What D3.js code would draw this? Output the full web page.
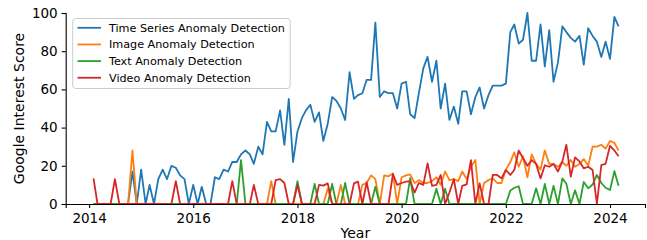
<!DOCTYPE html>
<html><head><meta charset="utf-8">
<script src="https://cdn.jsdelivr.net/npm/d3@7"></script>
<style>
body{margin:0;background:#fff}
svg{display:block;font-family:"DejaVu Sans",sans-serif}
</style>
</head><body>
<svg id="chart" width="647" height="240"></svg>
<script>
// ---- data (monthly, Feb 2014 .. Mar 2024) ----
const firstMonth = [2014, 1];   // year, month index (Feb)
const lastMonth  = [2024, 2];   // Mar 2024
const seriesNames = ["Time Series Anomaly Detection","Image Anomaly Detection","Text Anomaly Detection","Video Anomaly Detection"];
const seriesColors = ["#1f77b4","#ff7f0e","#2ca02c","#d62728"];

const timeSeriesAD = [
  0,0,0,0,0,0,0,0,0,17,0,
  18,0,10,0,13,18,13,20,19,15,13,0,
  10,0,9,0,0,14,13,18,17,22,22,26,
  28,26,21,30,26,43,38,38,49,31,55,22,
  38,45,49,52,43,48,33,42,56,54,50,44,
  69,55,57,58,65,65,95,56,59,58,58,50,
  63,64,47,45,58,71,77,64,75,50,63,44,
  51,42,59,59,47,56,61,50,57,62,62,62,
  63,90,94,84,86,100,75,75,94,72,91,64,
  74,93,90,87,85,88,73,92,88,85,77,85,
  76,98,93
];
const imageAD = [
  0,0,0,0,0,0,0,0,0,28,0,
  0,0,0,0,0,0,0,0,0,0,0,0,
  0,0,0,0,0,0,0,0,0,0,0,0,
  0,0,0,0,0,0,12,0,0,0,0,0,
  0,0,0,0,0,0,0,8,0,0,10,0,
  0,0,0,10,11,15,13,0,15,14.5,16,0,
  14,15,15.5,11,12.5,11,11,12,14,10,17,12.5,
  13,12,17,13,19.5,23,0,11,12.5,13.5,11,11,
  18,22,27,19.5,25,14,26,21,18,28,21,21,
  19.5,22,20,23,19.5,21,23.5,20,30,30,31,29,
  33,32,28
];
const textAD = [
  0,0,0,0,0,0,0,0,0,0,0,
  0,0,0,0,0,0,0,0,0,0,0,0,
  0,0,0,0,0,0,0,0,0,0,0,23,
  0,0,0,0,0,0,0,0,0,0,0,0,
  12,0,0,0,10.5,0,0,0,10.5,0,0,11,
  0,0,0,0,0,0,9,0,0,0,0,0,
  0,0,13.5,0,0,0,0,0,8,0,8,0,
  0,0,0,0,0,0,0,0,0,0,0,0,
  0,7,8.5,9.3,0,0,0,8.2,0,10.5,0,9.5,
  0,13.4,10.6,0,7.2,0,11.5,8.2,10.2,15.2,11,8.5,
  7.3,17.2,9.5
];
const videoAD = [
  13.4,0,0,0,0,13,0,0,0,0,0,
  0,0,0,0,0,0,0,0,12,0,0,0,
  0,0,0,0,0,0,0,0,0,12,0,0,
  0,0,10,0,0,0,0,12.5,13,11,0,0,
  10,0,0,0,0,10,9.6,10.8,0,0,0,0,
  0,10.8,11.7,0,11.4,0,0,0,0,0,15.7,10,
  11,11.7,12,6,11,10,21.3,9.5,10,15.2,0,6,
  13,0,9.5,10.3,23,0,10.8,0,0,15.2,15.2,13.4,
  17.8,15.2,17.8,28,24,20,23,21,13.4,20.3,19.5,21,
  17,22.3,31,14.3,24.4,22.3,18.7,19.5,17.8,0,20.3,21,
  30.5,28,25
];
const yTicks = [0,20,40,60,80,100];
const xTickYears = [2014,2016,2018,2020,2022,2024];
const xLabel = "Year";
const yLabel = "Google Interest Score";

// ---- layout ----
const svg = d3.select("#chart");
const plotL = 65.7, plotR = 645, plotT = 13, plotB = 204;

const months = d3.utcMonth.range(
  new Date(Date.UTC(firstMonth[0], firstMonth[1], 1)),
  d3.utcMonth.offset(new Date(Date.UTC(lastMonth[0], lastMonth[1], 1)), 1)
);
const allSeries = [timeSeriesAD, imageAD, textAD, videoAD];

const x = d3.scaleUtc()
  .domain([new Date(Date.UTC(2014,0,1)), new Date(Date.UTC(2024,0,1))])
  .range([89.1, 610]);
x.domain([x.invert(plotL), x.invert(plotR)]).range([plotL, plotR]);

const y = d3.scaleLinear().domain([0,100]).range([plotB, plotT]);

// lines
const line = d3.line().x((d,i)=>x(months[i])).y(d=>y(d));
allSeries.forEach((s,si)=>{
  svg.append("path").datum(s)
    .attr("d", line)
    .attr("fill","none")
    .attr("stroke", seriesColors[si])
    .attr("stroke-width", 1.8)
    .attr("stroke-linejoin","round");
});

// axes
const xAxis = d3.axisBottom(x)
  .tickValues(xTickYears.map(yr=>new Date(Date.UTC(yr,0,1))))
  .tickFormat(d3.utcFormat("%Y"))
  .tickSizeOuter(0).tickSize(4).tickPadding(5);
const gx = svg.append("g").attr("transform",`translate(0,${plotB})`).call(xAxis);
gx.selectAll("text").attr("font-size","13.5px").attr("fill","#000").attr("font-family","DejaVu Sans");
gx.select(".domain").attr("stroke","#000").attr("stroke-width",1.1);
gx.selectAll(".tick line").attr("stroke","#000").attr("stroke-width",1.1);

const yAxis = d3.axisLeft(y).tickValues(yTicks).tickSizeOuter(0).tickSize(4).tickPadding(4);
const gy = svg.append("g").attr("transform",`translate(${plotL},0)`).call(yAxis);
gy.selectAll("text").attr("font-size","13.5px").attr("fill","#000").attr("font-family","DejaVu Sans");
gy.select(".domain").attr("stroke","#000").attr("stroke-width",1.1);
gy.selectAll(".tick line").attr("stroke","#000").attr("stroke-width",1.1);

// axis labels
svg.append("text").attr("x",(plotL+plotR)/2).attr("y",237.5)
  .attr("text-anchor","middle").attr("font-size","14px").text(xLabel);
svg.append("text")
  .attr("transform",`translate(19,${(plotT+plotB)/2}) rotate(-90)`)
  .attr("text-anchor","middle").attr("dominant-baseline","central")
  .attr("font-size","14px").text(yLabel);

// legend
const lg = svg.append("g");
lg.append("rect").attr("x",72.7).attr("y",18.5).attr("width",217.5).attr("height",70)
  .attr("rx",3).attr("fill","#fff").attr("fill-opacity",0.8)
  .attr("stroke","#cccccc").attr("stroke-width",1);
seriesNames.forEach((n,i)=>{
  const ry = 27.8 + i*16.65;
  lg.append("line").attr("x1",77.5).attr("x2",101).attr("y1",ry).attr("y2",ry)
    .attr("stroke",seriesColors[i]).attr("stroke-width",1.8);
  lg.append("text").attr("x",109).attr("y",ry).attr("dy","0.36em")
    .attr("font-size","11.2px").attr("fill","#000").text(n);
});
</script>
</body></html>
